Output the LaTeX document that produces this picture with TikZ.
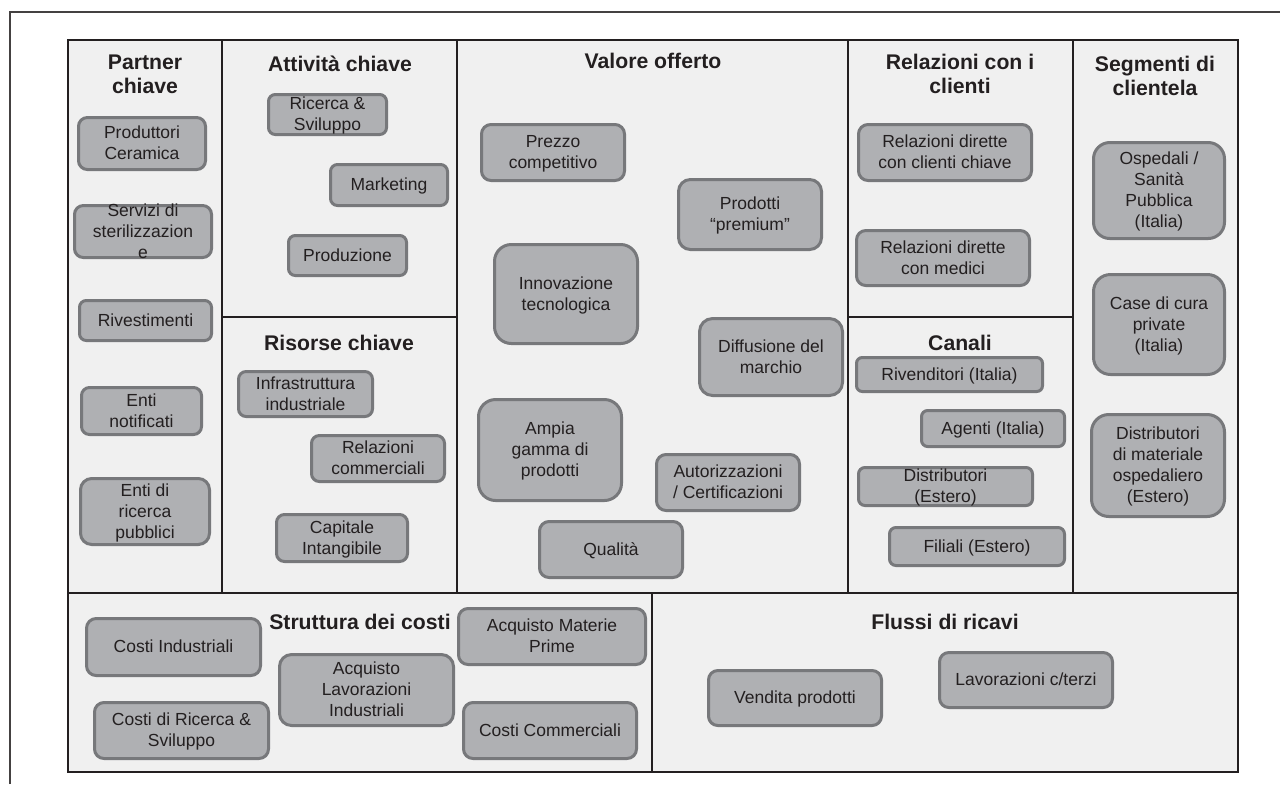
\documentclass[tikz,border=0pt]{standalone}
\usepackage{fontspec}
\setmainfont{Liberation Sans}
\definecolor{secfill}{HTML}{F0F0F0}
\definecolor{boxfill}{HTML}{AFB0B3}
\definecolor{boxline}{HTML}{77787B}
\definecolor{ink}{HTML}{231F20}
\newcommand{\bt}[2][2.9pt]{\smash{\lower#1\hbox{\begin{tabular}{@{}c@{}}#2\end{tabular}}}}
\tikzset{
  section/.style={fill=secfill, draw=ink, line width=1pt},
  frame/.style={draw=ink!85, line width=0.6pt},
  box/.style={draw=boxline, fill=boxfill, line width=1.5pt, inner sep=0pt, text=ink,
    font=\fontsize{8.75}{10.5}\selectfont},
  head/.style={inner sep=0pt, text=ink, font=\bfseries\fontsize{10.6}{12}\selectfont},
}
\newcommand{\bx}[6]{%
  \pgfmathsetmacro\mybw{(#4-#2)*0.5-1.5}%
  \pgfmathsetmacro\mybh{(#5-#3)*0.5-1.5}%
  \pgfmathsetmacro\mybr{min(\mybw,\mybh)*0.17}%
  \node[box, minimum width=\mybw pt, minimum height=\mybh pt, rounded corners=\mybr pt]
    (#1) at ({(#2+#4)/2},{(#3+#5)/2}) {\bt{#6}};}
\begin{document}
\begin{tikzpicture}[x=0.5pt,y=-0.5pt]
\useasboundingbox (0,0) rectangle (1280,784);
% outer frame
\draw[frame] (10,784) -- (10,12) -- (1280,12);
% sections
\draw[section] (68,40) rectangle (222,593);
\draw[section] (222,40) rectangle (457,317);
\draw[section] (222,317) rectangle (457,593);
\draw[section] (457,40) rectangle (848,593);
\draw[section] (848,40) rectangle (1073,317);
\draw[section] (848,317) rectangle (1073,593);
\draw[section] (1073,40) rectangle (1238,593);
\draw[section] (68,593) rectangle (652,772);
\draw[section] (652,593) rectangle (1238,772);
% headers
\node[head] (hpc) at (145,74) {\bt[4pt]{Partner\\chiave}};
\node[head] (hak) at (340,64) {\bt[4pt]{Attività chiave}};
\node[head] (hvo) at (653,61) {\bt[4pt]{Valore offerto}};
\node[head] (hrl) at (960,74) {\bt[4pt]{Relazioni con i\\clienti}};
\node[head] (hsc) at (1155,76) {\bt[4pt]{Segmenti di\\clientela}};
\node[head] (hrc) at (339,343) {\bt[4pt]{Risorse chiave}};
\node[head] (hch) at (960,343) {\bt[4pt]{Canali}};
\node[head] (hcs) at (360,622) {\bt[4pt]{Struttura dei costi}};
\node[head] (hrv) at (945,622) {\bt[4pt]{Flussi di ricavi}};
% Partner chiave
\bx{pc1}{77}{116}{207}{171}{Produttori\\Ceramica}
\bx{pc2}{73}{204}{213}{259}{Servizi di\\sterilizzazion\\e}
\bx{pc3}{78}{299}{213}{342}{Rivestimenti}
\bx{pc4}{80}{386}{203}{436}{Enti\\notificati}
\bx{pc5}{79}{477}{211}{546}{Enti di\\ricerca\\pubblici}
% Attivita chiave
\bx{ak1}{267}{93}{388}{136}{Ricerca \&\\Sviluppo}
\bx{ak2}{329}{163}{449}{207}{Marketing}
\bx{ak3}{287}{234}{408}{277}{Produzione}
% Risorse chiave
\bx{rc1}{237}{370}{374}{418}{Infrastruttura\\industriale}
\bx{rc2}{310}{434}{446}{483}{Relazioni\\commerciali}
\bx{rc3}{275}{513}{409}{563}{Capitale\\Intangibile}
% Valore offerto
\bx{vo1}{480}{123}{626}{182}{Prezzo\\competitivo}
\bx{vo2}{677}{178}{823}{251}{Prodotti\\“premium”}
\bx{vo3}{493}{243}{639}{345}{Innovazione\\tecnologica}
\bx{vo4}{698}{317}{844}{397}{Diffusione del\\marchio}
\bx{vo5}{477}{398}{623}{502}{Ampia\\gamma di\\prodotti}
\bx{vo6}{655}{453}{801}{512}{Autorizzazioni\\/ Certificazioni}
\bx{vo7}{538}{520}{684}{579}{Qualità}
% Relazioni con i clienti
\bx{rl1}{857}{123}{1033}{182}{Relazioni dirette\\con clienti chiave}
\bx{rl2}{855}{229}{1031}{287}{Relazioni dirette\\con medici}
% Canali
\bx{ch1}{855}{356}{1044}{393}{Rivenditori (Italia)}
\bx{ch2}{920}{409}{1066}{448}{Agenti (Italia)}
\bx{ch3}{857}{466}{1034}{507}{Distributori\\(Estero)}
\bx{ch4}{888}{526}{1066}{567}{Filiali (Estero)}
% Segmenti di clientela
\bx{sc1}{1092}{141}{1226}{240}{Ospedali /\\Sanità\\Pubblica\\(Italia)}
\bx{sc2}{1092}{273}{1226}{376}{Case di cura\\private\\(Italia)}
\bx{sc3}{1090}{413}{1226}{518}{Distributori\\di materiale\\ospedaliero\\(Estero)}
% Struttura dei costi
\bx{cs1}{85}{617}{262}{677}{Costi Industriali}
\bx{cs2}{93}{701}{270}{760}{Costi di Ricerca \&\\Sviluppo}
\bx{cs3}{278}{653}{455}{727}{Acquisto\\Lavorazioni\\Industriali}
\bx{cs4}{457}{607}{647}{666}{Acquisto Materie\\Prime}
\bx{cs5}{462}{701}{638}{760}{Costi Commerciali}
% Flussi di ricavi
\bx{rv1}{707}{669}{883}{727}{Vendita prodotti}
\bx{rv2}{938}{651}{1114}{709}{Lavorazioni c/terzi}
\end{tikzpicture}
\end{document}
